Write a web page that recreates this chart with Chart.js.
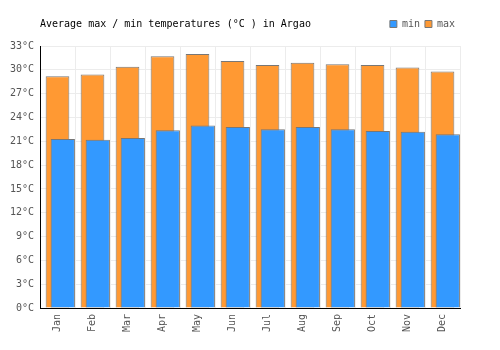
<!DOCTYPE html>
<html>
<head>
<meta charset="utf-8">
<script src="https://cdn.jsdelivr.net/npm/chart.js@4.4.1/dist/chart.umd.min.js"></script>
<style>
  html, body { margin: 0; padding: 0; background: #fff; }
  #wrap { width: 500px; height: 350px; position: relative; }
</style>
</head>
<body>
<div id="wrap"><canvas id="c" width="500" height="350"></canvas></div>
<script>
const months = ['Jan','Feb','Mar','Apr','May','Jun','Jul','Aug','Sep','Oct','Nov','Dec'];
const minTemps = [21.3, 21.2, 21.4, 22.4, 23.0, 22.8, 22.5, 22.8, 22.5, 22.3, 22.2, 21.9];
const maxTemps = [29.2, 29.4, 30.4, 31.7, 32.0, 31.1, 30.6, 30.9, 30.7, 30.6, 30.3, 29.8];
const yTickValues = [0, 3, 6, 9, 12, 15, 18, 21, 24, 27, 30, 33];
const titleText = 'Average max / min temperatures (°C ) in Argao';

Chart.defaults.font.family = "'DejaVu Sans Mono', monospace";
Chart.defaults.font.size = 10;
Chart.defaults.color = '#555';
Chart.defaults.animation = false;

// min bars sit shifted right of the category centre (fraction of a category)
const minShift = 0.151;

const legendSpacer = {
  id: 'legendSpacer',
  beforeInit(chart) {
    const lg = chart.legend;
    if (lg && !lg._patched) {
      const orig = lg.fit;
      lg.fit = function () { orig.call(this); this.height += 7; };
      lg._patched = true;
    }
  }
};

new Chart(document.getElementById('c'), {
  type: 'bar',
  data: {
    labels: months,
    datasets: [
      { label: 'min', data: minTemps.map((v, i) => ({ x: i, y: v })), xAxisID: 'x2',
        backgroundColor: '#3399ff', borderColor: '#777', borderWidth: 1,
        grouped: false, categoryPercentage: 1, barPercentage: 0.694 },
      { label: 'max', data: maxTemps, xAxisID: 'x',
        backgroundColor: '#ff9933', borderColor: '#777', borderWidth: 1,
        grouped: false, categoryPercentage: 1, barPercentage: 0.677 }
    ]
  },
  options: {
    responsive: false,
    layout: { padding: { left: 0, right: 40, top: 0, bottom: 0 } },
    plugins: {
      title: {
        display: true, text: titleText, align: 'start', fullSize: false, color: '#000',
        font: { size: 10, weight: 'normal' }, padding: { top: 18, bottom: -16 }
      },
      legend: {
        display: true, position: 'top', align: 'end',
        labels: { boxWidth: 7, boxHeight: 7, padding: 5, color: '#555', font: { size: 10 } }
      },
      tooltip: { enabled: false }
    },
    scales: {
      x: {
        type: 'category', offset: true,
        grid: { offset: true, color: '#ececec', drawTicks: false },
        border: { color: '#000', width: 1 },
        ticks: { maxRotation: 90, minRotation: 90, padding: 6, color: '#555' },
        afterFit(s) { s.height = 42; }
      },
      x2: {
        type: 'linear', display: false, offset: false,
        min: -0.5 - minShift, max: months.length - 0.5 - minShift,
        afterBuildTicks(s) { s.ticks = months.map((_, i) => ({ value: i })); }
      },
      y: {
        min: 0, max: 33,
        afterBuildTicks(s) { s.ticks = yTickValues.map(v => ({ value: v })); },
        grid: { color: '#ececec', drawTicks: false },
        border: { color: '#000', width: 1 },
        ticks: { padding: 6, color: '#555', callback: (v) => v + '°C' },
        afterFit(s) { s.width = 40; }
      }
    }
  },
  plugins: [legendSpacer]
});
</script>
</body>
</html>
